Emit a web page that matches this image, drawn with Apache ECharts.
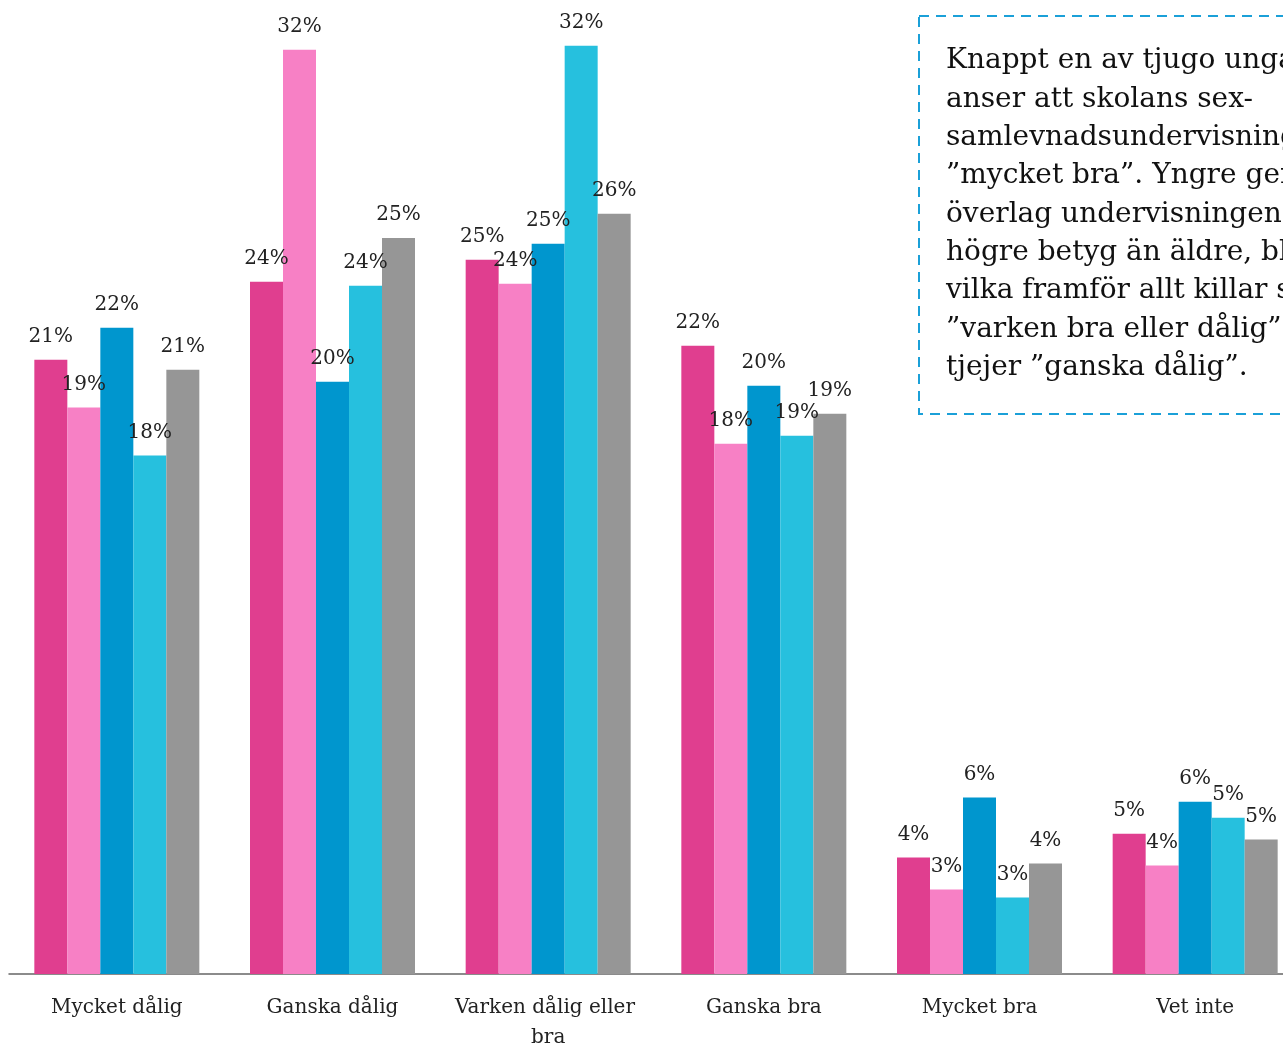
<!DOCTYPE html>
<html>
<head>
<meta charset="utf-8">
<script src="https://cdn.jsdelivr.net/npm/echarts@6/dist/echarts.min.js"></script>
<style>
  html, body { margin: 0; padding: 0; background: #fff; overflow: hidden; }
  #chart { width: 1320px; height: 1046px; }
</style>
</head>
<body>
<div id="chart"></div>
<script>
const categories = ["Mycket dålig", "Ganska dålig", "Varken dålig eller bra", "Ganska bra", "Mycket bra", "Vet inte"];
const seriesNames = ["Tjejer yngre", "Tjejer äldre", "Killar yngre", "Killar äldre", "Totalt"];
const tjejerYngre = [21.14, 23.82, 24.58, 21.62, 4.01, 4.83];
const tjejerAldre = [19.49, 31.80, 23.75, 18.25, 2.91, 3.73];
const killarYngre = [22.24, 20.38, 25.13, 20.24, 6.07, 5.93];
const killarAldre = [17.84, 23.68, 31.94, 18.52, 2.63, 5.38];
const totalt = [20.79, 25.33, 26.16, 19.28, 3.80, 4.63];
const colors = ["#E03E8F", "#F780C5", "#0096CE", "#26C0DE", "#969696"];
const noteLines = [
  "Knappt en av tjugo unga",
  "anser att skolans sex-",
  "samlevnadsundervisning är",
  "”mycket bra”. Yngre ger",
  "överlag undervisningen",
  "högre betyg än äldre, bland",
  "vilka framför allt killar svarar",
  "”varken bra eller dålig” och",
  "tjejer ”ganska dålig”."
];

const font = "DejaVu Serif";
const chart = echarts.init(document.getElementById('chart'));

const allData = [tjejerYngre, tjejerAldre, killarYngre, killarAldre, totalt];

chart.setOption({
  animation: false,
  grid: { left: 9, top: 15, right: 17, bottom: 72, containLabel: false, outerBoundsMode: 'none' },
  xAxis: {
    type: 'category',
    data: categories,
    axisLine: { lineStyle: { color: '#666', width: 1.5 } },
    axisTick: { show: false },
    axisLabel: {
      color: '#222',
      fontFamily: font,
      fontSize: 20,
      margin: 19,
      lineHeight: 30,
      width: 200,
      overflow: 'break',
      interval: 0
    }
  },
  yAxis: {
    type: 'value',
    min: 0,
    max: 33,
    show: false,
    splitLine: { show: false }
  },
  series: allData.map((d, i) => ({
    name: seriesNames[i],
    type: 'bar',
    data: d,
    barWidth: 33,
    barGap: '0%',
    itemStyle: { color: colors[i] },
    label: {
      show: true,
      position: 'top',
      distance: 13,
      color: '#222',
      fontFamily: font,
      fontSize: 20,
      formatter: p => Math.round(p.value) + '%'
    }
  })),
  graphic: [
    {
      type: 'rect',
      left: 918,
      top: 15,
      shape: { width: 500, height: 398 },
      style: { fill: '#fff', stroke: '#1BA0D8', lineWidth: 2, lineDash: [10, 7] },
      z: 10
    },
    {
      type: 'text',
      left: 946,
      top: 42,
      style: {
        text: noteLines.join('\n'),
        fontFamily: font,
        fontSize: 28,
        lineHeight: 38.3,
        fill: '#111'
      },
      z: 11
    }
  ]
});
</script>
</body>
</html>
